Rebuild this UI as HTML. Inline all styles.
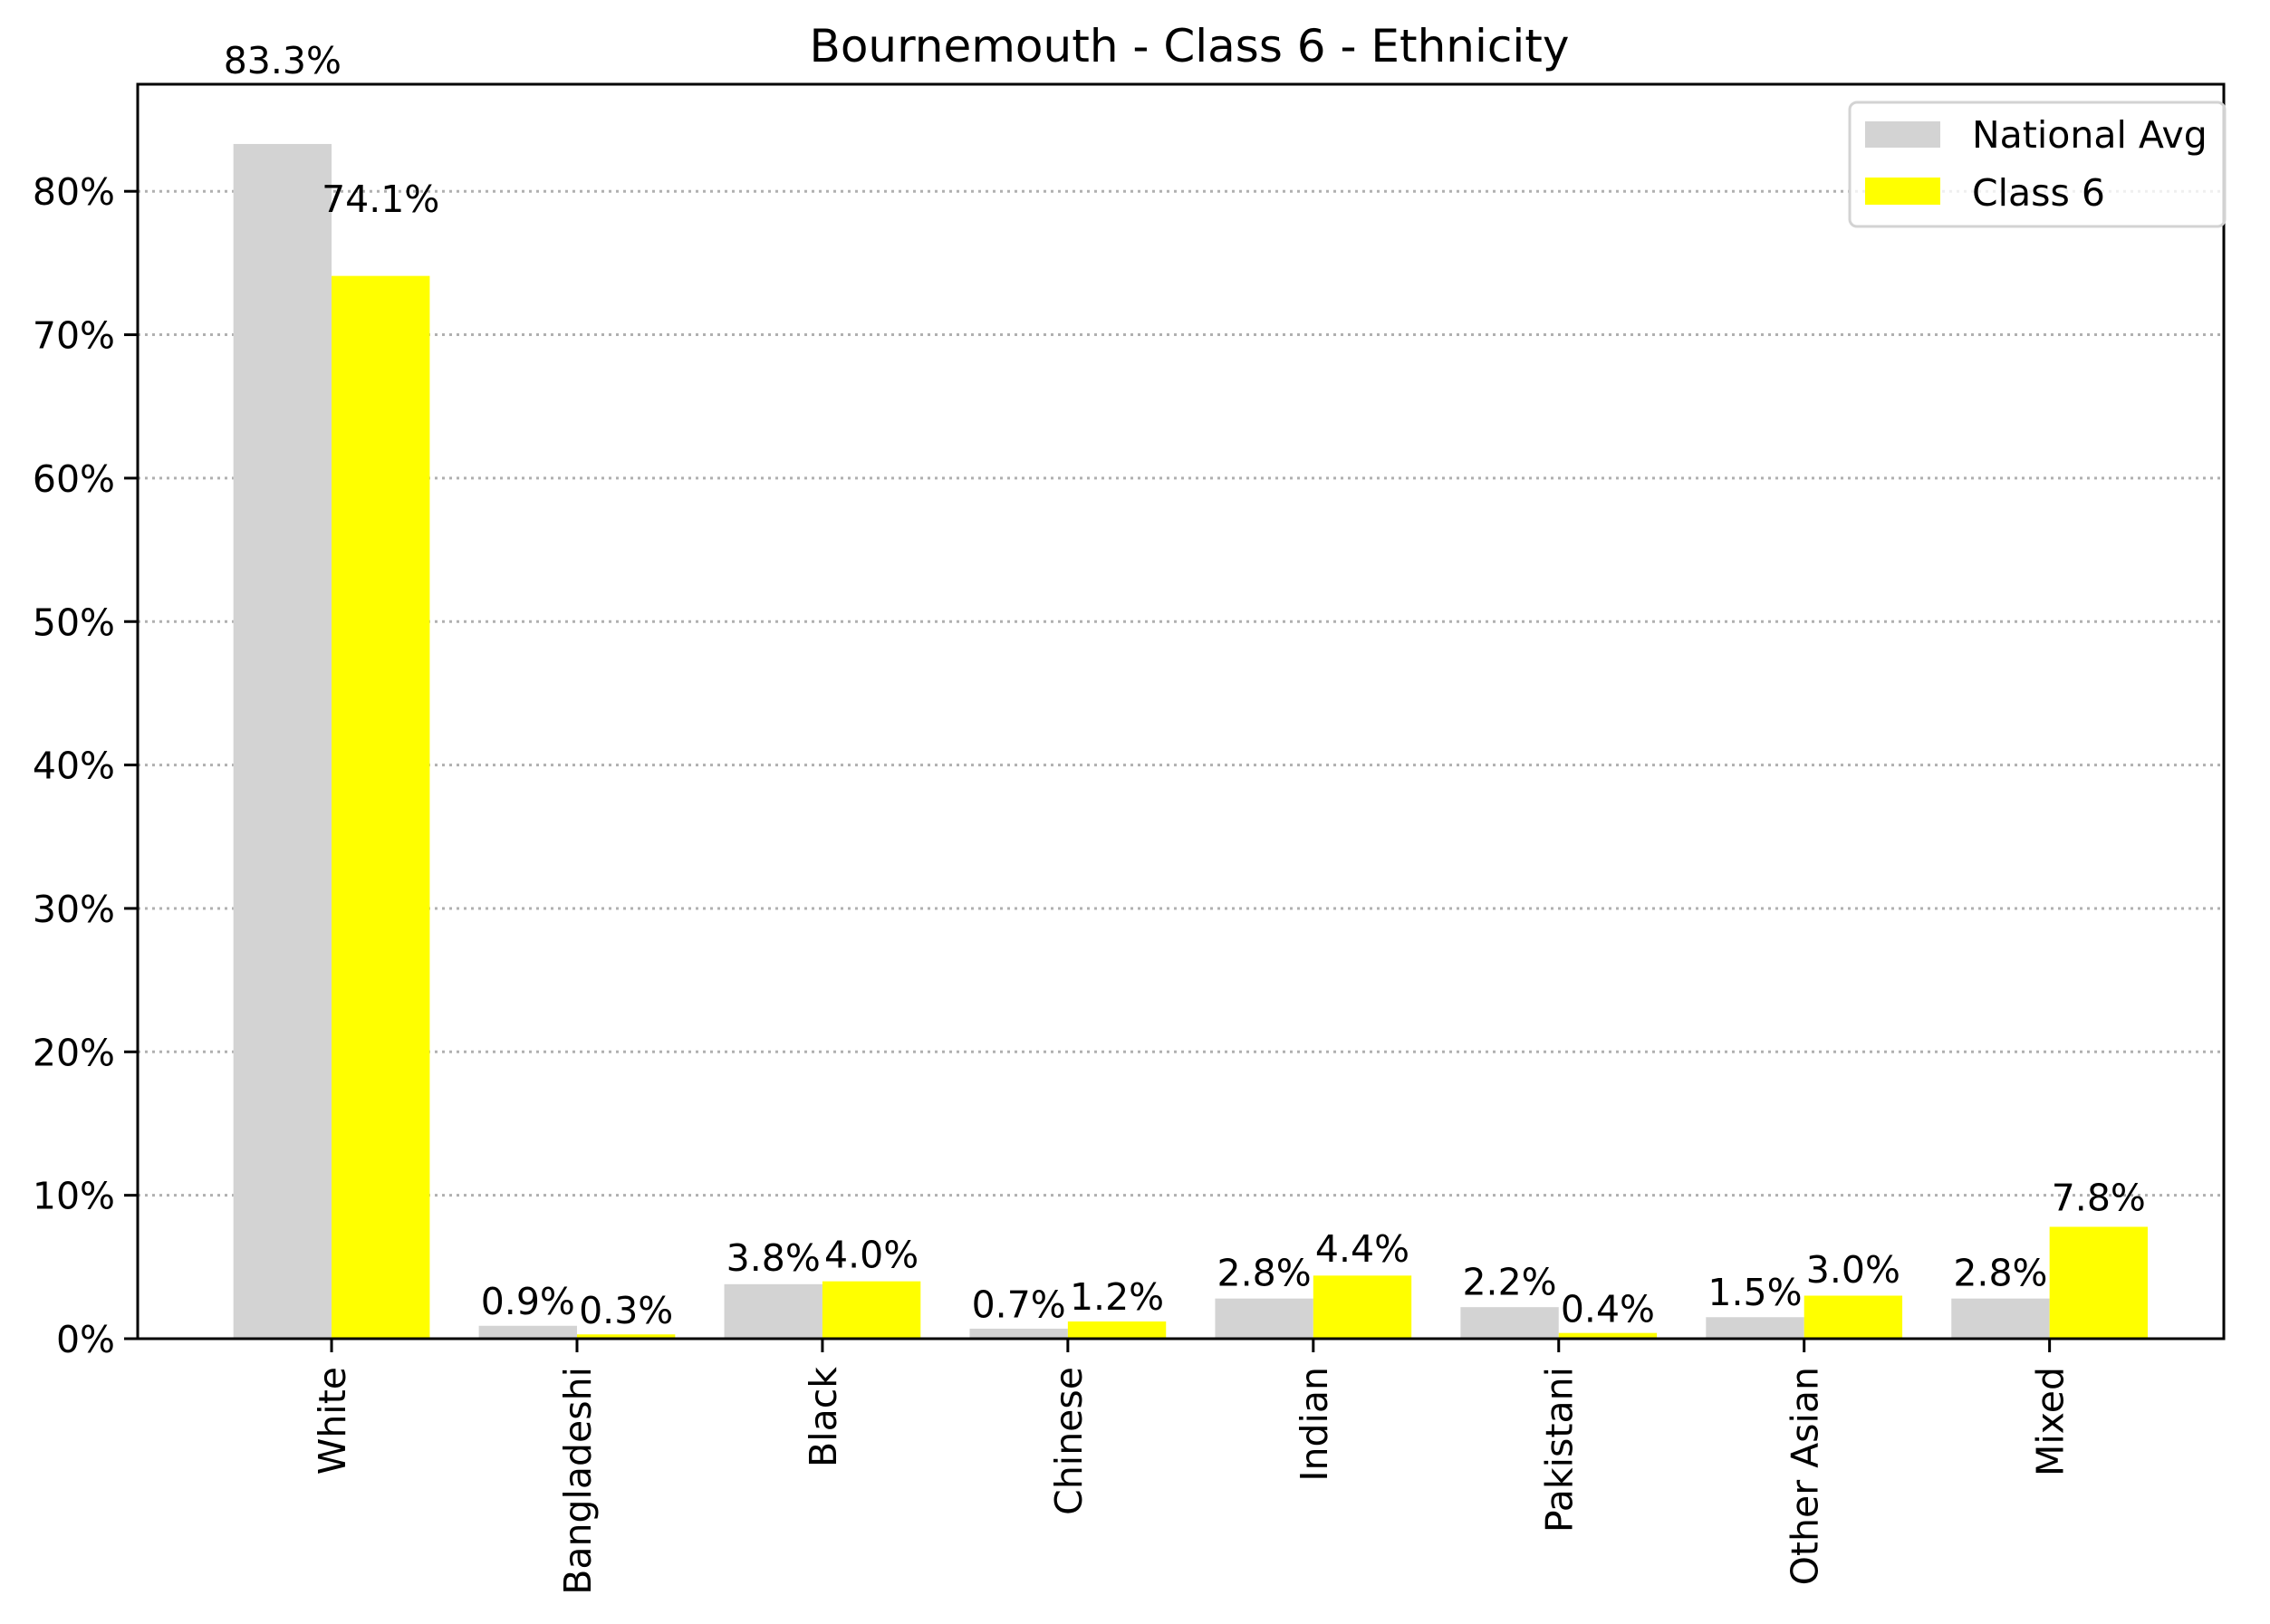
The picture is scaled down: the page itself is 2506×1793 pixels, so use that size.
<!DOCTYPE html>
<html><head><meta charset="utf-8"><style>
body{margin:0;background:#fff}
svg{display:block;font-family:"DejaVu Sans","Liberation Sans",sans-serif}
</style></head><body>
<svg id="chart" xmlns="http://www.w3.org/2000/svg" width="2506" height="1793" viewBox="0 0 2506 1793">
<rect width="2506" height="1793" fill="#fff"/>
<text x="1313" y="68" font-size="50" text-anchor="middle">Bournemouth - Class 6 - Ethnicity</text>
<g id="grid"></g><g id="bars"></g><g id="labels"></g><g id="axes"></g>
<g>
<rect x="2042" y="113" width="414" height="137" rx="8" fill="#fff" fill-opacity="0.8" stroke="#d3d3d3" stroke-width="3"/>
<rect x="2059" y="134" width="83" height="29" fill="#d3d3d3"/>
<text x="2177" y="163" font-size="41">National Avg</text>
<rect x="2059" y="196" width="83" height="30" fill="#ffff00"/>
<text x="2177" y="227" font-size="41">Class 6</text>
</g>
</svg>
<script>
const categories=["White","Bangladeshi","Black","Chinese","Indian","Pakistani","Other Asian","Mixed"];
const nationalAvg=[83.3,0.9,3.8,0.7,2.8,2.2,1.5,2.8];
const class6=[74.1,0.3,4.0,1.2,4.4,0.4,3.0,7.8];
const yTicks=[0,10,20,30,40,50,60,70,80];
const NS="http://www.w3.org/2000/svg";
const L=152,R=2455,T=93,B=1478;
const ymax=Math.max(...nationalAvg,...class6)*1.05;
const xmin=-0.79,xmax=categories.length-1+0.71;
const X=v=>L+(v-xmin)/(xmax-xmin)*(R-L);
const Y=v=>B-v/ymax*(B-T);
function mk(tag,attrs,parent,txt){const e=document.createElementNS(NS,tag);for(const k in attrs)e.setAttribute(k,attrs[k]);if(txt!==undefined)e.textContent=txt;document.getElementById(parent).appendChild(e);return e;}
yTicks.forEach(t=>{
 if(t>0){const g=mk('line',{x1:L,x2:R,y1:Y(t),y2:Y(t),stroke:'#b0b0b0','stroke-width':3,'stroke-dasharray':'3,5'},'grid');
 
 }
 const tk=mk('line',{x1:L-15,x2:L,y1:Y(t),y2:Y(t),stroke:'#000','stroke-width':3},'axes');
 
 
 const tl=mk('text',{x:L-25,y:Y(t)+15,'font-size':41,'text-anchor':'end'},'axes',t+'%');
 
 
});
const w=0.4;
function fmt(v){return v.toFixed(1)+'%';}
categories.forEach((c,i)=>{
 const slug=c.toLowerCase().replace(/\s+/g,'-');
 [[nationalAvg[i],i-w,'#d3d3d3','national'],[class6[i],i,'#ffff00','class6']].forEach(([v,x0,col,s])=>{
  const r=mk('rect',{x:X(x0),y:Y(v),width:X(x0+w)-X(x0),height:B-Y(v),fill:col},'bars');
  
  
  const t=mk('text',{x:X(x0+w/2),y:Y(v*1.05+0.5)-4,'font-size':41,'text-anchor':'middle'},'labels',fmt(v));
  
  
 });
 const tk=mk('line',{x1:X(i),x2:X(i),y1:B,y2:B+15,stroke:'#000','stroke-width':3},'axes');
 
 
 const xl=mk('text',{x:0,y:0,'font-size':41,'text-anchor':'end',transform:`translate(${X(i)+15},${B+31}) rotate(-90)`},'axes',c);
 
 
});
const fr=mk('rect',{x:L,y:T,width:R-L,height:B-T,fill:'none',stroke:'#000','stroke-width':3},'axes');


</script>
</body></html>
